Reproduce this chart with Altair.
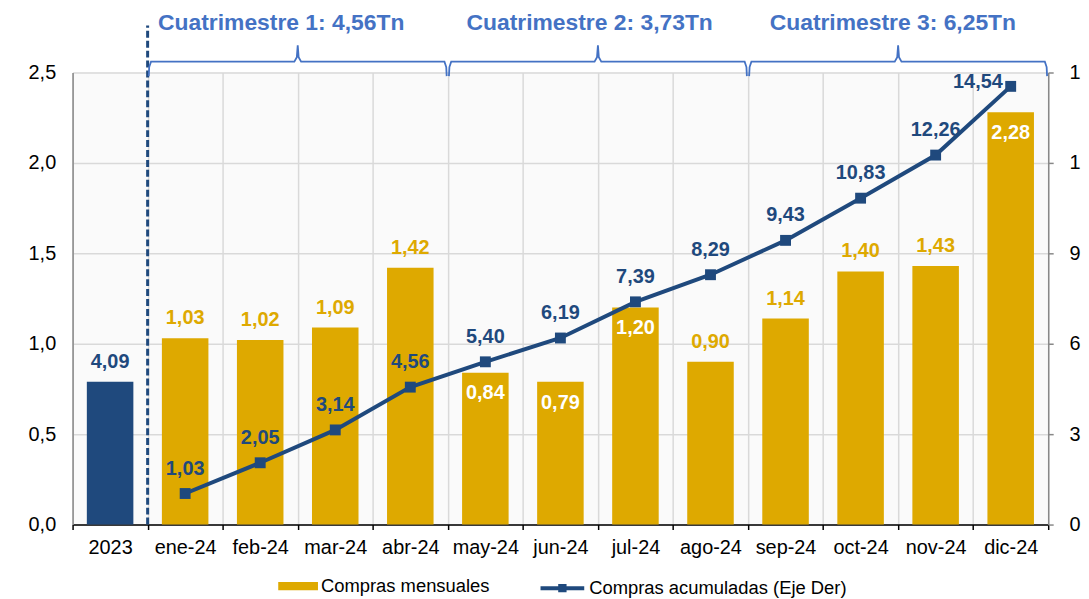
import altair as alt
import pandas as pd

# ---------------- data ----------------
categories = ["2023", "ene-24", "feb-24", "mar-24", "abr-24", "may-24", "jun-24",
              "jul-24", "ago-24", "sep-24", "oct-24", "nov-24", "dic-24"]
bar_values = [0.79, 1.03, 1.02, 1.09, 1.42, 0.84, 0.79, 1.20, 0.90, 1.14, 1.40, 1.43, 2.28]
bar_labels = ["4,09", "1,03", "1,02", "1,09", "1,42", "0,84", "0,79", "1,20", "0,90",
              "1,14", "1,40", "1,43", "2,28"]
line_months = categories[1:]
cum_values = [1.03, 2.05, 3.14, 4.56, 5.40, 6.19, 7.39, 8.29, 9.43, 10.83, 12.26, 14.54]
inside_label_months = ["may-24", "jun-24", "jul-24", "dic-24"]
quarter_titles = ["Cuatrimestre 1: 4,56Tn", "Cuatrimestre 2: 3,73Tn", "Cuatrimestre 3: 6,25Tn"]
quarter_start = [1, 5, 9]
quarter_end = [5, 9, 13]
title_shift = [-0.22, -0.11, -0.07]
left_ticks = [0, 0.5, 1.0, 1.5, 2.0, 2.5]
right_ticks = [0, 3, 6, 9, 12, 15]

S_BAR = "Compras mensuales"
S_LINE = "Compras acumuladas (Eje Der)"

GOLD = "#DEA900"
NAVY = "#1F497D"
BLUE = "#4472C4"
FONT = "Liberation Sans"

bars_df = pd.DataFrame({
    "mes": categories,
    "v": bar_values,
    "lab": bar_labels,
    "serie": ["2023"] + [S_BAR] * 12,
})
bars_df["inside"] = bars_df["mes"].isin(inside_label_months)
bars_df["labcolor"] = ["navy"] + ["white" if i else "gold" for i in bars_df["inside"][1:]]

line_df = pd.DataFrame({"mes": line_months, "c": cum_values, "serie": S_LINE})
line_df["lab"] = [f"{v:.2f}".replace(".", ",") for v in cum_values]
line_df["last"] = line_df["mes"] == "dic-24"

# bracket shapes (in category-index units, y in left-axis units)
rows = []
for qi, (a, b) in enumerate(zip(quarter_start, quarter_end)):
    a2, b2 = a + 0.015, b - 0.015
    m = (a + b) / 2
    pts = [(a2, 2.48), (a2 + 0.006, 2.53), (a2 + 0.03, 2.56),
           (m - 0.045, 2.56), (m - 0.012, 2.585), (m, 2.65),
           (m + 0.012, 2.585), (m + 0.045, 2.56),
           (b2 - 0.03, 2.56), (b2 - 0.006, 2.53), (b2, 2.48)]
    for k, (x, y) in enumerate(pts):
        rows.append({"q": qi, "k": k, "ax": x, "ay": y})
brackets_df = pd.DataFrame(rows)
titles_df = pd.DataFrame({
    "t": quarter_titles,
    "ax": [(a + b) / 2 + s for a, b, s in zip(quarter_start, quarter_end, title_shift)],
    "ay": [2.775] * 3,
})
divider_df = pd.DataFrame({"ax": [1.0], "ay": [0.0], "ay2": [2.76]})

# ---------------- scales ----------------
x_scale = alt.Scale(domain=categories, paddingInner=0, paddingOuter=0)
y_left = alt.Scale(domain=[0, 2.5], nice=False)
y_right = alt.Scale(domain=[0, 15], nice=False)
ax_scale = alt.Scale(domain=[0, 13], nice=False, zero=False)

bar_legend = alt.Legend(
    title=None, orient="none", direction="horizontal", legendX=207, legendY=497,
    values=[S_BAR], symbolType="M-1,-0.21H1V0.21H-1Z", symbolSize=1600,
    symbolStrokeWidth=0, labelFont=FONT, labelFontSize=18.5, labelColor="#000000",
    labelOffset=3, labelLimit=400,
)
line_legend = alt.Legend(
    title=None, orient="none", direction="horizontal", legendX=469, legendY=495,
    values=[S_LINE], symbolType="M-1,0H1M-0.1,-0.1H0.1V0.1H-0.1Z", symbolSize=1936,
    symbolStrokeWidth=4, symbolFillColor=NAVY, labelFont=FONT, labelFontSize=18.5,
    labelColor="#000000", labelOffset=3, labelLimit=400,
)

x_enc = alt.X("mes:N", scale=x_scale, sort=categories, title=None,
              axis=alt.Axis(tickBand="extent", grid=True, gridColor="#D9D9D9", gridWidth=1.5,
                            ticks=True, tickColor="#000000", tickSize=5, tickWidth=1.5,
                            domain=True, domainColor="#000000", domainWidth=1.5,
                            labelAngle=0, labelFont=FONT, labelFontSize=20, labelColor="#000000",
                            labelPadding=8))
x_noaxis = alt.X("mes:N", scale=x_scale, sort=categories, axis=None)
y_l = alt.Y("v:Q", scale=y_left, title=None,
            axis=alt.Axis(values=left_ticks, grid=True, gridColor="#D9D9D9", gridWidth=1.5,
                          ticks=False, domain=True, domainColor="#888888", domainWidth=1.5,
                          labelExpr="replace(format(datum.value, '.1f'), '.', ',')",
                          labelFont=FONT, labelFontSize=20, labelColor="#000000", labelPadding=17))

base_bar = alt.Chart(bars_df)
bars = base_bar.mark_bar(width={"band": 0.62}).encode(
    x=x_enc, y=y_l,
    fill=alt.Fill("serie:N", scale=alt.Scale(domain=[S_BAR, "2023"], range=[GOLD, NAVY]),
                  legend=bar_legend),
)
lab_above = base_bar.transform_filter("!datum.inside").mark_text(
    font=FONT, fontSize=20, fontWeight="bold", baseline="middle", dy=-20
).encode(
    x=x_enc, y=y_l,
    text="lab:N",
    color=alt.Color("labcolor:N", scale=alt.Scale(domain=["navy", "gold", "white"],
                                                 range=[NAVY, GOLD, "#FFFFFF"]), legend=None),
)
lab_inside = base_bar.transform_filter("datum.inside").mark_text(
    font=FONT, fontSize=20, fontWeight="bold", baseline="middle", dy=21, color="#FFFFFF"
).encode(x=x_enc, y=y_l, text="lab:N")

bar_group = alt.layer(bars, lab_above, lab_inside)

base_line = alt.Chart(line_df)
y_r = alt.Y("c:Q", scale=y_right, title=None,
            axis=alt.Axis(orient="right", values=right_ticks, grid=False, ticks=True,
                          tickColor="#888888", tickSize=5, tickWidth=1.5, domain=True,
                          domainColor="#888888", domainWidth=1.5, labelFont=FONT, labelFontSize=20,
                          labelColor="#000000", labelPadding=16, format="d"))
line = base_line.mark_line(strokeWidth=4).encode(
    x=x_noaxis, y=y_r,
    stroke=alt.Stroke("serie:N", scale=alt.Scale(domain=[S_LINE], range=[NAVY]),
                      legend=line_legend),
)
points = base_line.mark_point(shape="square", filled=True, size=120, opacity=1, color=NAVY).encode(
    x=x_noaxis, y=y_r)
line_lab = base_line.transform_filter("!datum.last").mark_text(
    font=FONT, fontSize=20, fontWeight="bold", baseline="middle", dy=-25, color=NAVY
).encode(x=x_noaxis, y=y_r, text="lab:N")
line_lab_last = base_line.transform_filter("datum.last").mark_text(
    font=FONT, fontSize=20, fontWeight="bold", baseline="middle", dx=-33, dy=-4, color=NAVY
).encode(x=x_noaxis, y=y_r, text="lab:N")

line_group = alt.layer(line, points, line_lab, line_lab_last)

ax_x = alt.X("ax:Q", scale=ax_scale, axis=None)
ay_y = alt.Y("ay:Q", scale=y_left, axis=None)
divider = alt.Chart(divider_df).mark_rule(color=NAVY, strokeWidth=3, strokeDash=[7, 3]).encode(
    x=ax_x, y=ay_y, y2="ay2:Q")
brackets = alt.Chart(brackets_df).mark_line(color=BLUE, strokeWidth=1.8).encode(
    x=ax_x, y=ay_y, detail="q:N", order="k:Q")
titles = alt.Chart(titles_df).mark_text(
    font=FONT, fontSize=23, fontWeight="bold", color=BLUE, baseline="middle"
).encode(x=ax_x, y=ay_y, text="t:N")
annot = alt.layer(divider, brackets, titles)

chart = alt.layer(bar_group, line_group, annot).resolve_scale(
    x="independent", y="independent"
).properties(
    width=982, height=455,
    autosize=alt.AutoSizeParams(type="none"),
    padding={"left": 65, "top": 63, "right": 33, "bottom": 72},
).configure_view(fill="#FAFAFA", stroke=None)

chart.save("out.html", embed_options={"renderer": "svg", "actions": False})
